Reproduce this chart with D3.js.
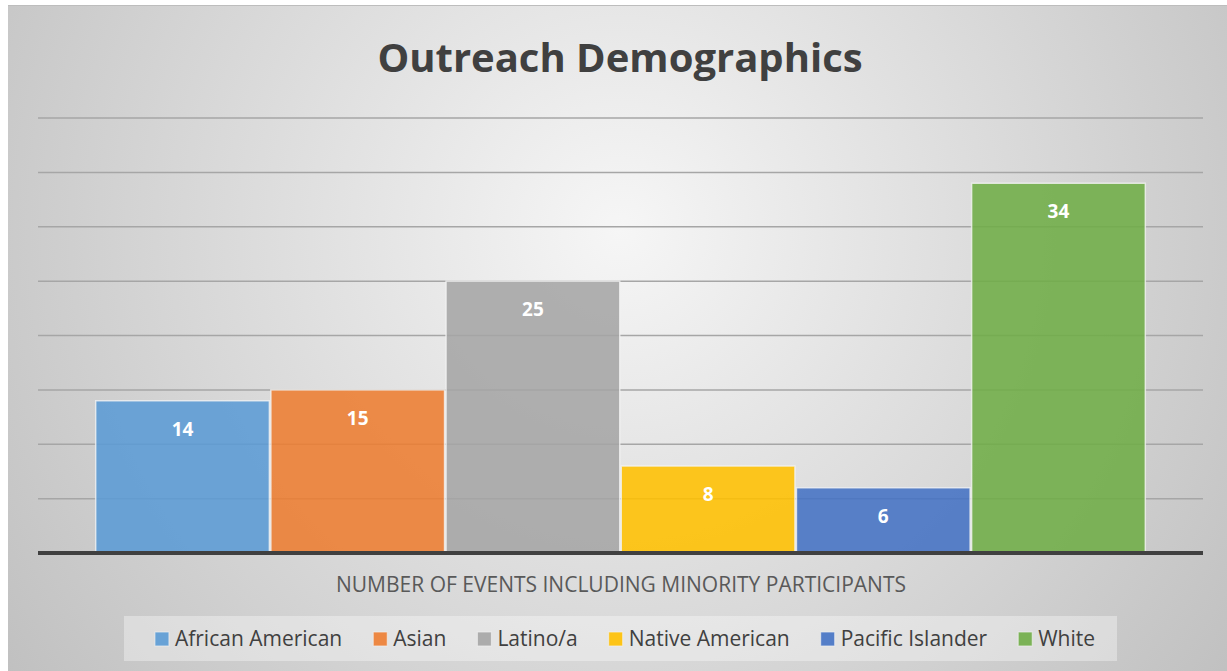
<!DOCTYPE html>
<html>
<head>
<meta charset="utf-8">
<script src="https://cdn.jsdelivr.net/npm/d3@7"></script>
<style>
  html, body { margin: 0; padding: 0; background: #ffffff; }
  svg { display: block; }
  text { font-family: "Open Sans", "DejaVu Sans", sans-serif; }
</style>
</head>
<body>
<svg id="chart" width="1227" height="671"></svg>
<script>
// Chart data
const categories = ["African American", "Asian", "Latino/a", "Native American", "Pacific Islander", "White"];
const values = [14, 15, 25, 8, 6, 34];
const colors = ["#5b9bd5", "#ed7d31", "#a5a5a5", "#ffc000", "#4472c4", "#70ad47"];
const yTicks = [0, 5, 10, 15, 20, 25, 30, 35, 40];
const titleText = "Outreach Demographics";
const axisTitle = "NUMBER OF EVENTS INCLUDING MINORITY PARTICIPANTS";

const W = 1227, H = 671;
const svg = d3.select("#chart");

// Background panel with soft radial shading
const defs = svg.append("defs");
const grad = defs.append("radialGradient")
  .attr("id", "bg")
  .attr("gradientUnits", "userSpaceOnUse")
  .attr("cx", 620).attr("cy", 230).attr("r", 760);
grad.append("stop").attr("offset", "0%").attr("stop-color", "#f6f6f6");
grad.append("stop").attr("offset", "100%").attr("stop-color", "#c0c0c0");

svg.append("rect").attr("x", 0).attr("y", 0).attr("width", W).attr("height", H).attr("fill", "#ffffff");
svg.append("rect")
  .attr("x", 8).attr("y", 5).attr("width", W - 8).attr("height", H - 5)
  .attr("fill", "url(#bg)");
svg.append("line")
  .attr("x1", 8).attr("x2", W).attr("y1", 5.5).attr("y2", 5.5)
  .attr("stroke", "#bdbdbd").attr("stroke-width", 1);

// Plot area
const plot = { left: 38, right: 1203, top: 118, bottom: 553 };

const x = d3.scaleBand()
  .domain(categories)
  .range([plot.left, plot.right])
  .paddingInner(0)
  .paddingOuter(0.325);

const y = d3.scaleLinear()
  .domain([0, 40])
  .range([plot.bottom, plot.top]);

// Horizontal gridlines
svg.append("g")
  .selectAll("line")
  .data(yTicks.filter(t => t > 0))
  .join("line")
  .attr("x1", plot.left).attr("x2", plot.right)
  .attr("y1", d => y(d)).attr("y2", d => y(d))
  .attr("stroke", "#a6a6a6")
  .attr("stroke-width", 1.5);

// Bars
svg.append("g")
  .selectAll("rect")
  .data(categories)
  .join("rect")
  .attr("x", d => x(d) + 0.75)
  .attr("width", x.bandwidth() - 1.5)
  .attr("y", (d, i) => y(values[i]))
  .attr("height", (d, i) => y(0) - y(values[i]))
  .attr("fill", (d, i) => colors[i])
  .attr("fill-opacity", 0.88)
  .attr("stroke", "#f2f2f2")
  .attr("stroke-opacity", 0.8)
  .attr("stroke-width", 1.5);

// Value labels
svg.append("g")
  .selectAll("text")
  .data(categories)
  .join("text")
  .attr("x", d => x(d) + x.bandwidth() / 2)
  .attr("y", (d, i) => y(values[i]) + 35)
  .attr("text-anchor", "middle")
  .attr("font-size", 19)
  .attr("font-weight", 700)
  .attr("fill", "#ffffff")
  .text((d, i) => values[i]);

// Baseline
svg.append("line")
  .attr("x1", plot.left).attr("x2", plot.right)
  .attr("y1", y(0)).attr("y2", y(0))
  .attr("stroke", "#404040")
  .attr("stroke-width", 4);

// Title
svg.append("text")
  .attr("x", 620).attr("y", 72)
  .attr("text-anchor", "middle")
  .attr("font-size", 40)
  .attr("font-weight", 700)
  .attr("fill", "#404040")
  .text(titleText);

// Axis title
svg.append("text")
  .attr("x", 621).attr("y", 592)
  .attr("text-anchor", "middle")
  .attr("font-size", 21)
  .attr("fill", "#595959")
  .text(axisTitle);

// Legend
svg.append("rect")
  .attr("x", 124).attr("y", 616).attr("width", 993).attr("height", 45)
  .attr("fill", "#ffffff").attr("fill-opacity", 0.35);

const legend = svg.append("g");
const items = legend.selectAll("g")
  .data(categories)
  .join("g");
items.append("rect")
  .attr("width", 14).attr("height", 14)
  .attr("y", 632)
  .attr("fill", (d, i) => colors[i])
  .attr("fill-opacity", 0.9)
  .attr("stroke", "#f2f2f2")
  .attr("stroke-opacity", 0.7)
  .attr("stroke-width", 1);
items.append("text")
  .attr("x", 20)
  .attr("y", 646)
  .attr("font-size", 21)
  .attr("fill", "#404040")
  .text(d => d);

// Lay out legend items left to right, centered in the box
const offsets = [];
let cursor = 0;
items.each(function (d, i) {
  const tw = d3.select(this).select("text").node().getComputedTextLength();
  offsets.push(cursor);
  cursor += 20 + tw + (i < categories.length - 1 ? 31 : 0);
});
const startX = 625 - cursor / 2;
items.attr("transform", (d, i) => `translate(${startX + offsets[i]},0)`);
</script>
</body>
</html>
